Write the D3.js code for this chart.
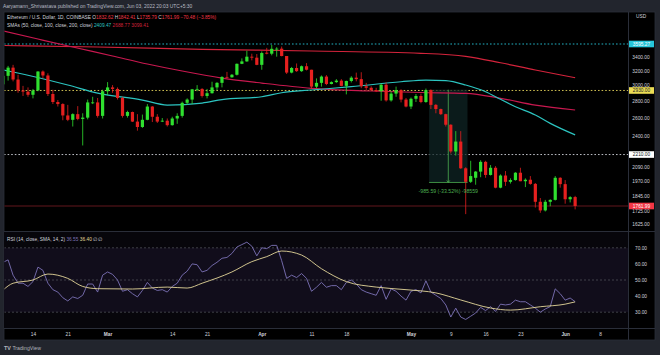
<!DOCTYPE html>
<html><head><meta charset="utf-8">
<script src="https://cdn.jsdelivr.net/npm/d3@7"></script>
<style>html,body{margin:0;padding:0;background:#22252d;overflow:hidden}svg{display:block;font-family:"Liberation Sans",Arial,sans-serif}</style>
</head><body>
<svg id="chart" width="660" height="355"></svg>
<script>
// ---------- DATA (daily candles, Feb 8 – Jun 3 2022) ----------
const firstDay = "2022-02-08";
const opens = [3010,3125,3240,3075,2930,2915,2875,2930,3185,3130,2885,2785,2760,2625,2575,2640,2585,2600,2770,2780,2620,
 2920,2970,2950,2835,2620,2665,2555,2495,2575,2730,2610,2555,2565,2515,2590,2620,2775,2815,2945,2950,2860,2895,2970,3030,3110,3105,3140,3295,3330,3400,3385,
 3280,3460,3445,3520,3522,3410,3170,3235,3190,3260,3210,2980,3030,3115,3015,3040,3060,2990,3055,3100,3080,2985,2965,2935,2920,3005,2805,2890,2935,2815,
 2730,2825,2860,2785,2935,2750,2700,2640,2520,2240,2340,2080,1960,1995,2050,2140,2020,2085,1910,2015,1960,1975,2040,1965,1978,1942,1795,1728,1795,1810,1995,
 1940,1815,1832.62];
const highs = [3180,3265,3280,3140,2990,2970,2950,3190,3200,3160,2940,2810,2770,2750,2650,2735,2650,2815,2850,2835,2940,
 3040,3000,2970,2850,2680,2670,2640,2635,2760,2735,2640,2595,2590,2610,2650,2790,2830,2950,3000,2960,2950,3045,3040,3120,3180,3150,3300,3375,3490,3445,3440,
 3480,3535,3580,3545,3555,3410,3250,3300,3270,3305,3210,3090,3130,3135,3050,3080,3080,3060,3120,3170,3175,3030,2985,2965,3020,3035,2920,2980,2945,2835,
 2840,2885,2890,2955,2945,2760,2705,2645,2525,2450,2450,2090,2150,2055,2155,2150,2110,2100,2025,2055,1990,2045,2085,1990,2010,1950,1825,1810,1815,2010,2000,
 1975,1840,1842.41];
const lows = [2930,3060,3050,2900,2860,2850,2830,2920,3090,2860,2760,2730,2570,2560,2500,2570,2300,2580,2760,2600,2590,
 2870,2900,2815,2600,2600,2550,2455,2485,2570,2550,2540,2550,2500,2510,2530,2600,2750,2760,2920,2840,2830,2890,2935,2970,3090,3100,3130,3290,3325,3345,3275,
 3210,3435,3420,3400,3405,3150,3160,3180,3180,3200,2950,2960,2980,3000,3010,3030,2985,2880,3035,3050,2960,2930,2925,2910,2800,2790,2790,2850,2780,2720,
 2700,2785,2770,2775,2700,2650,2630,2500,2220,2200,2075,1700,1950,1935,2000,1995,2015,1905,1905,1925,1945,1970,1965,1915,1935,1750,1710,1720,1760,1805,1910,
 1780,1790,1735.79];
const closes = [3125,3240,3075,2930,2915,2875,2930,3185,3130,2885,2785,2760,2625,2575,2640,2585,2600,2780,2780,2620,2920,
 2970,2950,2835,2620,2665,2555,2495,2575,2730,2610,2555,2565,2515,2590,2620,2775,2815,2945,2950,2860,2895,2970,3030,3110,3105,3140,3295,3330,3400,3385,3280,
 3455,3445,3520,3522,3410,3170,3235,3190,3260,3210,2980,3030,3115,3015,3040,3060,2990,3055,3100,3080,2985,2965,2935,2920,3005,2805,2890,2935,2815,2730,
 2825,2860,2785,2935,2750,2700,2640,2520,2240,2340,2080,1960,2010,2050,2140,2020,2085,1910,2015,1960,1975,2040,1965,1978,1942,1795,1728,1795,1810,1995,1940,
 1815,1832,1761.99];
const lastChange = -70.48, lastChangePct = -3.85;
const rsiValues = [61,62.5,53,48,48,46,49,58,56,48,44,42.5,39,37,39.5,38.5,40.5,47.5,47.5,42.5,53,
 55,53.5,50,43,44,41.5,39.5,43.5,48.5,45,43.5,44,42.5,46,48,53,55.5,60,59.5,55,56,59,61,63.5,64,66.5,70.5,72,73.5,71,65,
 70,69.5,71.5,71.5,62,51,53,51.5,54,51,43,45.5,48.5,45.5,46.5,46.5,44,48.5,50,47.5,44,42.5,41.5,40.5,46.5,38,44.5,43,40,37.5,
 43,44,42,49.5,42.5,40.5,38.5,34.5,27,32.5,27,25.5,27.5,29.5,33,31,33.5,30.5,35,34.5,35,37.5,36.5,36.5,34.5,32.5,30,32,33.5,44.5,41.5,
 37.5,38.8,36.55];
const rsiMaDates = ["2022-02-08","2022-02-10","2022-02-14","2022-02-17","2022-02-21","2022-02-24","2022-02-27","2022-03-06","2022-03-13","2022-03-17",
 "2022-03-20","2022-03-26","2022-03-30","2022-04-02","2022-04-05","2022-04-09","2022-04-13","2022-04-18","2022-04-24","2022-04-30","2022-05-06",
 "2022-05-11","2022-05-17","2022-05-21","2022-05-27","2022-06-01","2022-06-03"];
const rsiMaValues = [43.8,48,50,53.7,51,46,44.6,44.4,45.6,45,48,55,61.4,64.5,68,65.5,57,49,45.6,44,42,37.6,32.6,31.3,33.4,35,36.4];
const sma50Dates = ["2022-02-08","2022-02-10","2022-02-21","2022-02-27","2022-03-08","2022-03-13","2022-03-20","2022-03-24","2022-04-01","2022-04-05",
 "2022-04-11","2022-04-19","2022-04-29","2022-05-04","2022-05-08","2022-05-12","2022-05-16","2022-05-19","2022-05-22","2022-05-26","2022-05-29","2022-06-03"];
const sma50Values = [3206,3178,3001,2897,2809,2748,2772,2815,2850,2901,2936,2979,3045,3068,3059,3001,2914,2818,2728,2630,2535,2409.47];
const sma100Dates = ["2022-02-08","2022-02-15","2022-02-22","2022-03-02","2022-03-09","2022-03-16","2022-03-24","2022-04-01","2022-04-11","2022-04-23",
 "2022-05-03","2022-05-12","2022-05-19","2022-05-26","2022-06-03"];
const sma100Values = [3807,3675,3548,3410,3292,3192,3095,3027,2958,2923,2904,2893,2831,2748,2688.77];
const sma200Dates = ["2022-02-08","2022-02-27","2022-03-20","2022-04-11","2022-05-03","2022-05-12","2022-05-19","2022-05-26","2022-06-03"];
const sma200Values = [3572,3548,3512,3486,3451,3405,3310,3206,3099.41];
const priceTicks = [3400,3200,3000,2800,2600,2400,2090,1970,1845,1725,1625];
const rsiTicks = [70,60,50,40,30];
const timeTickDates = ["2022-02-14","2022-02-21","2022-03-01","2022-03-14","2022-03-21","2022-04-01","2022-04-11","2022-04-18","2022-05-01","2022-05-09","2022-05-16","2022-05-23","2022-06-01","2022-06-08"];
const timeTickLabels = ["14","21","Mar","14","21","Apr","11","18","May","9","16","23","Jun","8"];
const hLines = [{p:3595.27,c:"#26c6da",bg:"#26c6da",fg:"#ffffff"},{p:2930,c:"#e3d35a",bg:"#ecdc55",fg:"#131722"},{p:2210,c:"#d1d4dc",bg:"#ffffff",fg:"#131722"}];
const lastPrice = 1761.99;
const measureFrom = {date:"2022-05-05",p:2940}, measureTo = {date:"2022-05-12",p:1954.41};
const measureText = "-985.59 (-33.52%) -98559";

// ---------- SETUP ----------
const P = d3.utcParse("%Y-%m-%d");
const dates = d3.utcDay.range(P(firstDay), d3.utcDay.offset(P(firstDay), opens.length));
const candles = dates.map((d,i)=>({d,o:opens[i],h:highs[i],l:lows[i],c:closes[i],r:rsiValues[i]}));
const svg = d3.select("#chart");
const L=4, R=628, T=12, MB=231, RT=232, RB=328, AB=340;
const x = d3.scaleUtc().domain([P("2022-02-09"),P("2022-06-08")]).range([8.1,600]);
const y = d3.scaleLog().domain([3595.27,1761.99]).range([44,206]);
const yr = d3.scaleLinear().domain([30,70]).range([312.2,247.8]);
const fs = 4.8;
const f2 = d3.format(".2f");

// backgrounds
svg.append("rect").attr("x",0).attr("y",0).attr("width",660).attr("height",355).attr("fill","#22252d");
svg.append("rect").attr("x",L).attr("y",T).attr("width",651).attr("height",AB-T).attr("fill","#000").attr("stroke","#2a2e39").attr("stroke-width",0.8);
svg.append("rect").attr("x",L).attr("y",RT).attr("width",R-L).attr("height",RB-RT).attr("fill","#07060b");
svg.append("rect").attr("x",L).attr("y",yr(70)).attr("width",R-L).attr("height",yr(30)-yr(70)).attr("fill","#110d1b");

// header
svg.append("text").attr("x",3).attr("y",7.5).attr("fill","#b8bbc4").attr("font-size",4.9)
  .text("Aaryamann_Shrivastava published on TradingView.com, Jun 03, 2022 20:03 UTC+5:30");

// clips
const defs = svg.append("defs");
defs.append("clipPath").attr("id","cm").append("rect").attr("x",L+0.5).attr("y",T).attr("width",R-L-0.5).attr("height",MB-T);
defs.append("clipPath").attr("id","cr").append("rect").attr("x",L+0.5).attr("y",RT).attr("width",R-L-0.5).attr("height",RB-RT);
const gm = svg.append("g").attr("clip-path","url(#cm)");
const gr = svg.append("g").attr("clip-path","url(#cr)");

// horizontal lines
hLines.forEach(h=>{
  gm.append("line").attr("x1",L).attr("x2",R).attr("y1",y(h.p)).attr("y2",y(h.p))
    .attr("stroke",h.c).attr("stroke-width",0.9).attr("stroke-dasharray","1.6,2");
});
gm.append("line").attr("x1",L).attr("x2",R).attr("y1",y(lastPrice)).attr("y2",y(lastPrice))
  .attr("stroke","#8e2028").attr("stroke-width",0.7);

// measure tool
const mx0 = x(P(measureFrom.date))-1.8, mx1 = x(P(measureTo.date))+1.8, mxc=(mx0+mx1)/2;
gm.append("rect").attr("x",mx0).attr("y",y(measureFrom.p)).attr("width",mx1-mx0).attr("height",y(measureTo.p)-y(measureFrom.p))
  .attr("fill","#0f2424").attr("opacity",0.75);
gm.append("line").attr("x1",mxc).attr("x2",mxc).attr("y1",y(measureFrom.p)).attr("y2",y(measureTo.p)).attr("stroke","#4caf50").attr("stroke-width",0.8);
gm.append("line").attr("x1",mx0).attr("x2",mx1).attr("y1",y(measureTo.p)).attr("y2",y(measureTo.p)).attr("stroke","#4caf50").attr("stroke-width",0.8);
gm.append("path").attr("d",`M${mxc-1.5},${y(measureTo.p)-2}L${mxc},${y(measureTo.p)}L${mxc+1.5},${y(measureTo.p)-2}`).attr("fill","none").attr("stroke","#4caf50").attr("stroke-width",0.8);

// SMAs
const line = d3.line().x(d=>x(d[0])).y(d=>y(d[1])).curve(d3.curveMonotoneX);
[[sma200Dates,sma200Values,"#d3233b"],[sma100Dates,sma100Values,"#c8184f"],[sma50Dates,sma50Values,"#2cc4c0"]].forEach(([ds,vs,c])=>{
  gm.append("path").attr("d",line(ds.map((s,i)=>[P(s),vs[i]]))).attr("fill","none").attr("stroke",c).attr("stroke-width",1.2);
});

// candles
const UP="#2fe02f", DN="#e5201f";
const cg = gm.selectAll("g.c").data(candles).join("g").attr("fill",d=>d.c>=d.o?UP:DN).attr("stroke",d=>d.c>=d.o?UP:DN);
cg.append("line").attr("x1",d=>x(d.d)).attr("x2",d=>x(d.d)).attr("y1",d=>y(d.h)).attr("y2",d=>y(d.l)).attr("stroke-width",0.8);
cg.append("rect").attr("x",d=>x(d.d)-1.6).attr("width",3.2)
  .attr("y",d=>y(Math.max(d.o,d.c))).attr("height",d=>Math.max(0.8,Math.abs(y(d.o)-y(d.c)))).attr("stroke","none");

// measure label
gm.append("text").attr("x",mxc).attr("y",y(measureTo.p)+11).attr("text-anchor","middle").attr("fill","#4caf50").attr("font-size",5.2).text(measureText);

// legend
const lg1 = svg.append("text").attr("x",7).attr("y",18.5).attr("font-size",fs).attr("fill","#d1d4dc");
lg1.append("tspan").text("Ethereum / U.S. Dollar, 1D, COINBASE  ");
const last = candles[candles.length-1];
[["O",last.o],["H",last.h],["L",last.l],["C",last.c]].forEach(([k,v])=>{
  lg1.append("tspan").attr("fill","#d1d4dc").text(" "+k);
  lg1.append("tspan").attr("fill","#f23645").text(f2(v));
});
lg1.append("tspan").attr("fill","#f23645").text(" " + f2(lastChange).replace("-","−") + " (" + f2(lastChangePct).replace("-","−") + "%)");
const lg2 = svg.append("text").attr("x",7).attr("y",26.5).attr("font-size",fs).attr("fill","#d1d4dc");
lg2.append("tspan").text("SMAs (50, close, 100, close, 200, close)  ");
lg2.append("tspan").attr("fill","#2cc4c0").text(f2(sma50Values[sma50Values.length-1])+"  ");
lg2.append("tspan").attr("fill","#d3233b").text(f2(sma100Values[sma100Values.length-1])+"  ");
lg2.append("tspan").attr("fill","#d3233b").text(f2(sma200Values[sma200Values.length-1]));

// separators
svg.append("line").attr("x1",L).attr("x2",655).attr("y1",MB+0.5).attr("y2",MB+0.5).attr("stroke","#2a2e39").attr("stroke-width",1.2);
svg.append("line").attr("x1",L).attr("x2",655).attr("y1",RB+0.5).attr("y2",RB+0.5).attr("stroke","#2a2e39").attr("stroke-width",1);
svg.append("line").attr("x1",R+0.5).attr("x2",R+0.5).attr("y1",T).attr("y2",AB).attr("stroke","#2a2e39").attr("stroke-width",1);

// RSI pane
[70,50,30].forEach(v=>{
  gr.append("line").attr("x1",L).attr("x2",R).attr("y1",yr(v)).attr("y2",yr(v)).attr("stroke","#55575f").attr("stroke-width",0.7).attr("stroke-dasharray","2,2");
});
gr.append("path").attr("d",d3.line().x(d=>x(d.d)).y(d=>yr(d.r))(candles)).attr("fill","none").attr("stroke","#7d73b8").attr("stroke-width",0.9);
gr.append("path").attr("d",d3.line().x(d=>x(d[0])).y(d=>yr(d[1])).curve(d3.curveMonotoneX)(rsiMaDates.map((s,i)=>[P(s),rsiMaValues[i]])))
  .attr("fill","none").attr("stroke","#e4d79a").attr("stroke-width",0.9);
const lg3 = svg.append("text").attr("x",7).attr("y",240.5).attr("font-size",fs).attr("fill","#d1d4dc");
lg3.append("tspan").text("RSI (14, close, SMA, 14, 2)  ");
lg3.append("tspan").attr("fill","#7d73b8").text(f2(rsiValues[rsiValues.length-1])+"  ");
lg3.append("tspan").attr("fill","#e4d79a").text(f2(rsiMaValues[rsiMaValues.length-1])+"  ");
lg3.append("tspan").attr("fill","#d1d4dc").text("∅  ∅");

// price axis
const pa = svg.append("g").attr("transform",`translate(${R},0)`)
  .call(d3.axisRight(y).tickValues(priceTicks).tickFormat(f2).tickSize(0));
pa.select(".domain").remove();
pa.selectAll("text").attr("x",13).attr("text-anchor","middle").attr("fill","#d1d4dc").attr("font-size",fs).attr("font-family","Liberation Sans, Arial");
svg.append("text").attr("x",636).attr("y",18).attr("fill","#d1d4dc").attr("font-size",fs).text("USD");
const boxes = hLines.concat([{p:lastPrice,bg:"#f23645",fg:"#ffffff"}]);
boxes.forEach(b=>{
  svg.append("rect").attr("x",R+1).attr("y",y(b.p)-3.3).attr("width",25).attr("height",6.6).attr("fill",b.bg);
  svg.append("text").attr("x",R+13.5).attr("y",y(b.p)+1.7).attr("text-anchor","middle").attr("fill",b.fg).attr("font-size",fs).text(f2(b.p));
});

// RSI axis
const ra = svg.append("g").attr("transform",`translate(${R},0)`)
  .call(d3.axisRight(yr).tickValues(rsiTicks).tickFormat(f2).tickSize(0));
ra.select(".domain").remove();
ra.selectAll("text").attr("x",13).attr("text-anchor","middle").attr("fill","#d1d4dc").attr("font-size",fs).attr("font-family","Liberation Sans, Arial");

// time axis
const ta = svg.append("g").attr("transform",`translate(0,${RB})`)
  .call(d3.axisBottom(x).tickValues(timeTickDates.map(P)).tickFormat((d,i)=>timeTickLabels[i]).tickSize(0));
ta.select(".domain").remove();
ta.selectAll("text").attr("y",7.8).attr("dy",0).attr("fill","#d1d4dc").attr("font-size",fs).attr("font-family","Liberation Sans, Arial")
  .attr("font-weight",(d,i)=>isNaN(+timeTickLabels[i])?"bold":"normal");

// footer
const ft = svg.append("text").attr("x",4).attr("y",349.5).attr("fill","#b2b5be").attr("font-size",5.2);
ft.append("tspan").attr("font-weight","bold").attr("font-size",5.4).text("TV ");
ft.append("tspan").text("TradingView");
</script>
</body></html>
